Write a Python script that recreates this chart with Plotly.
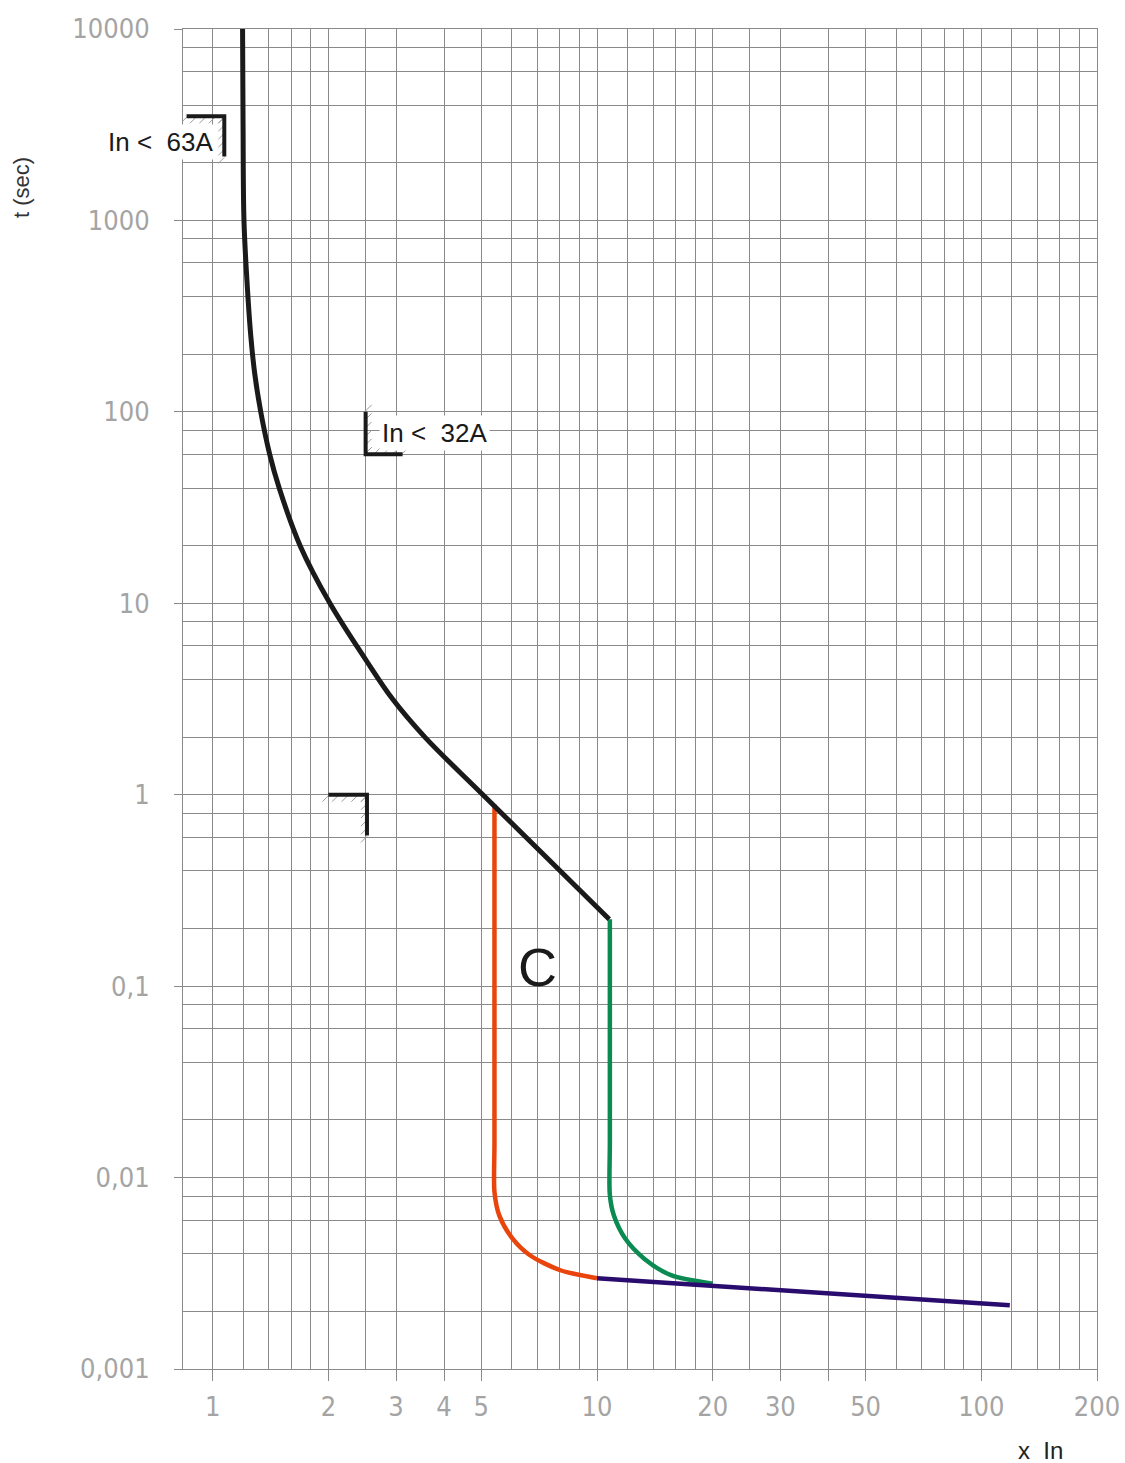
import numpy as np
import plotly.graph_objs as go

# tripping curve (x = multiple of In, t in seconds)
black_x = [1.196, 1.1995, 1.206, 1.2266, 1.256, 1.2863, 1.3337, 1.4072, 1.4894,
           1.6884, 2.0186, 2.512, 2.938, 3.565, 5.047, 10.76]
black_t = [10000, 3160, 1000, 501, 251, 158.5, 100, 60, 40,
           20, 10, 5.01, 3.16, 2.0, 1.0, 0.2235]

red_x = [5.41, 5.41, 5.41, 5.41, 5.41, 5.567, 6.03, 6.69, 8.03, 10.0]
red_t = [0.89, 0.2, 0.05, 0.015, 0.0084, 0.00635, 0.0048, 0.00393, 0.00328, 0.00298]

green_x = [10.8, 10.8, 10.8, 10.8, 11.06, 11.84, 13.27, 15.58, 20.0]
green_t = [0.2235, 0.05, 0.015, 0.0081, 0.00635, 0.0048, 0.00377, 0.00309, 0.00279]

purple_x = [10.0, 118.6]
purple_t = [0.00298, 0.00215]

# limit brackets
br63_x = [0.855, 1.072, 1.072]
br63_t = [3500, 3500, 2160]
br32_x = [2.5, 2.5, 3.12]
br32_t = [100, 60, 60]
br1_x = [2.0, 2.52, 2.52]
br1_t = [1, 1, 0.613]

x_ticks = [1, 2, 3, 4, 5, 10, 20, 30, 40, 50, 100, 200]
x_labels = ['1', '2', '3', '4', '5', '10', '20', '30', '', '50', '100', '200']
x_minor = [1.2, 1.4, 1.6, 1.8, 2.5, 6, 7, 8, 9,
           12, 14, 16, 18, 25, 60, 70, 80, 90,
           120, 140, 160, 180]
y_ticks = [0.001, 0.01, 0.1, 1, 10, 100, 1000, 10000]
y_labels = ['0,001', '0,01', '0,1', '1', '10', '100', '1000', '10000']
y_minor = [m * 10.0 ** k for k in range(-3, 4) for m in (2, 4, 6, 8)]

# figure geometry (px)
W, H = 1125, 1463
L, T = 183, 29
PW, PH = 914, 1340
R, B = W - L - PW, H - T - PH
x_range = [np.log10(0.837), np.log10(200)]
y_range = [-3, 4]
DX = (x_range[1] - x_range[0]) / PW
DY = (y_range[1] - y_range[0]) / PH


def px(x):
    return (x - L) / PW


def py(y):
    return 1 - (y - T) / PH


def hatch(xs, ts, a, b, step=8):
    # short diagonal strokes along a bracket, offsets a/b in px (dx, dy down)
    hx, ht = [], []
    for i in range(len(xs) - 1):
        x0, x1 = np.log10(xs[i]), np.log10(xs[i + 1])
        t0, t1 = np.log10(ts[i]), np.log10(ts[i + 1])
        length = np.hypot((x1 - x0) / DX, (t1 - t0) / DY)
        n = int(length // step)
        for k in range(n + 1):
            f = k / max(n, 1)
            lx = x0 + f * (x1 - x0)
            lt = t0 + f * (t1 - t0)
            hx += [10 ** (lx + a[0] * DX), 10 ** (lx + b[0] * DX), None]
            ht += [10 ** (lt - a[1] * DY), 10 ** (lt - b[1] * DY), None]
    return hx, ht


data = []
for bx, bt, a, b in [(br63_x, br63_t, (-6, 7), (0, 1)),
                     (br32_x, br32_t, (0, -1), (6, -7)),
                     (br1_x, br1_t, (-6, 7), (0, 1))]:
    hx, ht = hatch(bx, bt, a, b)
    data.append(go.Scatter(x=hx, y=ht, mode='lines',
                           line=dict(color='#9c9c9c', width=1)))
    data.append(go.Scatter(x=bx, y=bt, mode='lines',
                           line=dict(color='#1a1a1a', width=4)))

data += [
    go.Scatter(x=red_x, y=red_t, mode='lines',
               line=dict(color='#e8440c', width=4.5, shape='spline', smoothing=0.8)),
    go.Scatter(x=green_x, y=green_t, mode='lines',
               line=dict(color='#0b8a52', width=4.5, shape='spline', smoothing=0.8)),
    go.Scatter(x=purple_x, y=purple_t, mode='lines',
               line=dict(color='#2a0b6e', width=4.5)),
    go.Scatter(x=black_x, y=black_t, mode='lines',
               line=dict(color='#1a1a1a', width=5, shape='spline', smoothing=1)),
]

grid = '#8a8a8a'
tick_font = dict(family='DejaVu Sans Condensed, sans-serif',
                 size=27, color='#a4a4a4')
arial = 'Liberation Sans, Arial, sans-serif'
text_font = dict(family=arial, size=26, color='#1a1a1a')


def label(text, x, y, font, **kw):
    return dict(text=text, xref='paper', yref='paper', x=px(x), y=py(y),
                xanchor='center', yanchor='middle', showarrow=False,
                font=font, **kw)


layout = go.Layout(
    width=W, height=H,
    showlegend=False,
    paper_bgcolor='white', plot_bgcolor='white',
    margin=dict(l=L, r=R, t=T, b=B, pad=0, autoexpand=False),
    xaxis=dict(type='log', range=x_range,
               tickvals=x_ticks, ticktext=x_labels,
               ticks='outside', ticklen=11, tickcolor=grid, tickwidth=1,
               ticklabelstandoff=3, tickfont=tick_font,
               ticklabeloverflow='allow',
               showgrid=True, gridcolor=grid, gridwidth=1,
               minor=dict(tickvals=x_minor, showgrid=True, gridcolor=grid,
                          gridwidth=1, ticks=''),
               showline=True, mirror=True, linecolor=grid, linewidth=1,
               zeroline=False),
    yaxis=dict(type='log', range=y_range,
               tickvals=y_ticks, ticktext=y_labels,
               ticks='outside', ticklen=8, tickcolor=grid, tickwidth=1,
               ticklabelstandoff=19, tickfont=tick_font,
               ticklabeloverflow='allow',
               showgrid=True, gridcolor=grid, gridwidth=1,
               minor=dict(tickvals=y_minor, showgrid=True, gridcolor=grid,
                          gridwidth=1, ticks=''),
               showline=True, mirror=True, linecolor=grid, linewidth=1,
               zeroline=False),
    annotations=[
        label('t (sec)', 22, 188, dict(family=arial, size=22, color='#333'),
              textangle=-90),
        label('In &lt;\u00a0 63A', 160, 142, text_font, bgcolor='white', borderpad=2),
        label('In &lt;\u00a0 32A', 434, 433, text_font, bgcolor='white', borderpad=2),
        label('C', 537, 967, dict(family=arial, size=54, color='#1a1a1a')),
        label('x\u00a0 In', 1040, 1450, dict(family=arial, size=24, color='#222')),
    ],
)

fig = go.Figure(data=data, layout=layout)
# page body margin off so the figure sits at the window's corner
fig.write_html("out.html", config={'displayModeBar': False},
               post_script="document.body.style.margin='0px';")
